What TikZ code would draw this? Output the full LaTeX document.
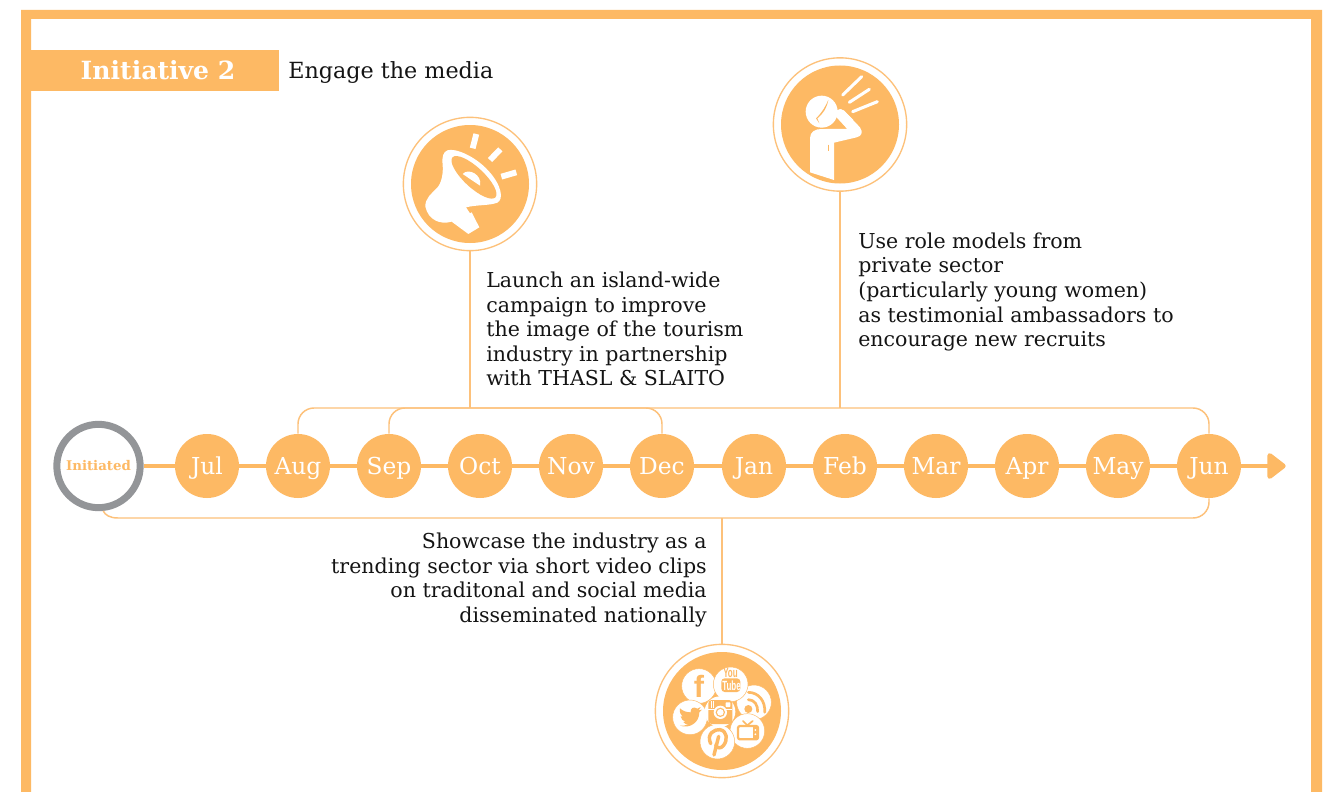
\documentclass[tikz,border=0pt]{standalone}
\usepackage{fontspec}
\usepackage{graphicx}
\setmainfont{DejaVu Serif}
\newfontfamily\iconfont{Liberation Sans}
\usetikzlibrary{arrows.meta}
\definecolor{amber}{HTML}{FDB964}
\definecolor{amberline}{HTML}{FDC17A}
\definecolor{ringgrey}{HTML}{939598}
\definecolor{inkdark}{HTML}{141414}
\tikzset{
  x=0.75pt,y=-0.75pt,
  month/.style={circle,fill=amber,text=white,minimum size=48pt,inner sep=0pt,text height=12.8pt,text depth=0pt,font=\fontsize{17.5}{19}\selectfont},
  startring/.style={circle,draw=ringgrey,fill=white,line width=5.25pt,minimum size=62.5pt,inner sep=0pt,text=amber,font=\fontsize{10}{11}\bfseries\selectfont},
  tline/.style={amber,line width=3.6pt},
  bus/.style={amberline,line width=1.1pt,rounded corners=12pt},
  stem/.style={amberline,line width=1.1pt},
  badgering/.style={circle,draw=amberline,fill=white,line width=1pt,minimum size=100pt,inner sep=0pt},
  badgefill/.style={circle,fill=amber,minimum size=88.5pt,inner sep=0pt},
  body/.style={inner sep=0pt,text=inkdark,font=\fontsize{15.4}{18.4}\selectfont},
  ray/.style={white,line cap=round},
  glyph/.style={amber,line cap=round,line join=round},
  puck/.style={fill=white,draw=amber,line width=.35pt},
}
\begin{document}
\begin{tikzpicture}
\useasboundingbox (0,0) rectangle (1335,792);
\fill[white] (0,0) rectangle (1335,792);
% frame
\fill[amber] (21,792)--(21,10)--(1322,10)--(1322,792)--(1311,792)--(1311,19)--(31,19)--(31,792)--cycle;
% banner
\node[fill=amber,minimum width=193.5pt,minimum height=30.75pt,inner sep=0pt,anchor=north west] (banner) at (21,50) {};
\node[text=white,inner sep=0pt,font=\fontsize{18.8}{20}\bfseries\selectfont] (bannertext) at (158,70) {Initiative 2};
\node[inner sep=0pt,anchor=west,text=inkdark,font=\fontsize{16.7}{18}\selectfont] (subtitle) at (288,72.5) {Engage the media};

% timeline nodes
\node[startring] (init) at (98.5,466) {Initiated};
\node[month] (jul) at (207,466) {Jul};
\node[month] (aug) at (298,466) {Aug};
\node[month] (sep) at (389,466) {Sep};
\node[month] (oct) at (480,466) {Oct};
\node[month] (nov) at (571,466) {Nov};
\node[month] (dec) at (662,466) {Dec};
\node[month] (jan) at (754,466) {Jan};
\node[month] (feb) at (845,466) {Feb};
\node[month] (mar) at (936,466) {Mar};
\node[month] (apr) at (1027,466) {Apr};
\node[month] (may) at (1118,466) {May};
\node[month] (jun) at (1209,466) {Jun};
\coordinate (tip) at (1287,466);
\coordinate (topbus) at (298,408);
\coordinate (botbus) at (722,518);
\coordinate (botleft) at (118,518);

\draw[tline] (init) -- (jul) -- (aug) -- (sep) -- (oct) -- (nov) -- (dec) -- (jan) -- (feb) -- (mar) -- (apr) -- (may) -- (jun);
\draw[tline,-{Triangle[length=15pt,width=22pt,round]},shorten >=1pt] (jun) -- (tip);

% buses
\draw[bus] (aug.north) |- (topbus -| jun) -- (jun.north);
\draw[bus] (sep.north) |- (topbus -| dec) -- (dec.north);
\draw[stem] (init.-84) .. controls (105,515) and (110,518) .. (botleft);
\draw[bus] (botleft) -- (botbus -| jun) -- (jun.south);

% badges
\node[badgering] (megaring) at (470,184) {};
\node[badgefill] (megafill) at (470,184) {};
\node[badgering] (shoutring) at (840,124.5) {};
\node[badgefill] (shoutfill) at (840,124.5) {};
\node[badgering] (socialring) at (722,711) {};
\node[badgefill] (socialfill) at (722,711) {};

\draw[stem] (megaring.south) -- (megaring.south |- topbus);
\draw[stem] (shoutring.south) -- (shoutring.south |- topbus);
\draw[stem] (socialring.north) -- (socialring.north |- botbus);

% texts
\node[body,anchor=west,align=left] (launch) at (486,329) {Launch an island-wide\\campaign to improve\\the image of the tourism\\industry in partnership\\with THASL \& SLAITO};
\node[body,anchor=west,align=left] (rolemodels) at (858,292) {Use role models from\\private sector\\(particularly young women)\\as testimonial ambassadors to\\encourage new recruits};
\node[body,anchor=east,align=right] (showcase) at (707,580) {Showcase the industry as a\\trending sector via short video clips\\on traditonal and social media\\disseminated nationally};

% megaphone icon
\begin{scope}[shift={(390,50)},scale=1/3]
\fill[white] (172,301) .. controls (195,293) and (255,318) .. (295,362) .. controls (335,405) and (342,448) .. (322,458) .. controls (300,467) and (260,464) .. (228,472) -- (240,490) -- (245,487) -- (268,532) -- (235,552) -- (185,515) .. controls (150,525) and (115,510) .. (106,470) .. controls (105,445) and (125,430) .. (140,415) .. controls (155,400) and (160,370) .. (158,345) .. controls (155,320) and (160,306) .. (172,301) -- cycle;
\fill[amber,rotate around={-43:(252,382)}] (252,382) ellipse [x radius=88,y radius=30];
\fill[white] (218,372) .. controls (235,352) and (278,375) .. (270,407) -- cycle;
\draw[white,line width=4.4pt] (259,252) -- (248,295);
\draw[white,line width=4.4pt] (331,298) -- (300,330);
\draw[white,line width=4.4pt] (379,367) -- (334,380);
\end{scope}

% shouting person icon
\begin{scope}[shift={(760,50)},scale=1/3]
\fill[white] (150,265) .. controls (150,245) and (165,237) .. (185,237) -- (262,237) -- (228,195) .. controls (222,180) and (240,172) .. (252,182) -- (300,232) .. controls (310,248) and (305,258) .. (290,262) -- (222,278) -- (222,390) -- (150,367) -- cycle;
\fill[amber] (185,185) circle [radius=52];
\fill[white] (185,185) circle [radius=48];
\fill[white] (226,198) .. controls (220,180) and (240,172) .. (252,182) -- (280,210) -- (262,237) -- cycle;
\fill[amber] (205,150) .. controls (200,175) and (190,190) .. (172,205) -- (178,220) -- (168,205) .. controls (186,188) and (196,170) .. (205,150) -- cycle;
\draw[amber,line width=1pt] (205,284) -- (205,304);
\draw[ray,line width=2.3pt] (248,135) -- (305,80);
\draw[ray,line width=2.3pt] (268,157) -- (328,118);
\draw[ray,line width=2.3pt] (278,185) -- (352,155);
\end{scope}

% social media icon
\begin{scope}[shift={(640,635)},scale=1/3]
\path[puck] (342,202) circle [radius=52];
\path[puck] (322,288) circle [radius=52];
\path[puck] (177,153) circle [radius=52];
\path[puck] (272,148) circle [radius=52];
\path[puck] (150,247) circle [radius=52];
\path[puck] (232,320) circle [radius=52];
\fill[white] (240,230) circle [radius=46];
% instagram
\fill[amber,rounded corners=2.5pt] (205,195) rectangle (277,267);
\fill[white] (205,222) rectangle (277,226);
\fill[white] (241,232) circle [radius=20];
\fill[amber] (241,232) circle [radius=14];
\fill[white] (241,232) circle [radius=10];
\fill[white,rounded corners=.5pt] (257,202) rectangle (271,216);
\draw[white,line width=.5pt] (214,197) -- (214,218) (220,197) -- (220,218);
% youtube box
\fill[amber,rounded corners=2.5pt] (244,130) rectangle (301,171);
% rss
\fill[amber] (325,222) circle [radius=12];
\draw[glyph,line width=2pt] (325,194) .. controls (343,194) and (354,210) .. (353,230);
\draw[glyph,line width=2pt] (325,172) .. controls (355,172) and (377,198) .. (374,232);
% twitter
\fill[amber] (120,272) .. controls (150,282) and (178,262) .. (178,232) -- (186,224) -- (176,226) -- (182,216) -- (172,221) .. controls (160,212) and (150,222) .. (152,232) .. controls (140,232) and (128,228) .. (120,220) .. controls (118,232) and (122,240) .. (128,245) -- (122,244) .. controls (124,252) and (128,258) .. (136,260) -- (130,261) .. controls (134,266) and (138,268) .. (144,268) .. controls (136,272) and (128,273) .. (120,272) -- cycle;
% pinterest
\draw[glyph,line width=2.6pt] (212,326) .. controls (198,295) and (225,282) .. (240,284) .. controls (262,288) and (264,315) .. (250,332) .. controls (242,342) and (230,340) .. (227,330);
\draw[glyph,line width=2.6pt] (236,304) -- (222,360);
% tv
\draw[glyph,line width=1.7pt,rounded corners=1.5pt] (294,273) rectangle (354,313);
\fill[amber] (338,273) rectangle (354,313);
\fill[white] (346,285) circle [radius=3];
\fill[white] (346,298) circle [radius=3];
\draw[glyph,line width=1.3pt] (309,258) -- (322,271) -- (338,258);
\end{scope}
\node[inner sep=0pt,text=amber,font=\iconfont\fontsize{23}{23}\bfseries\selectfont] (fglyph) at (699,686) {f};
\node[inner sep=0pt,text=amber,font=\iconfont\fontsize{10}{10}\bfseries\selectfont] (youtext) at (730.5,673) {\scalebox{.6}[1]{You}};
\node[inner sep=0pt,text=white,font=\iconfont\fontsize{10}{10}\bfseries\selectfont] (tubetext) at (731.5,685.5) {\scalebox{.6}[1]{Tube}};
\end{tikzpicture}
\end{document}
